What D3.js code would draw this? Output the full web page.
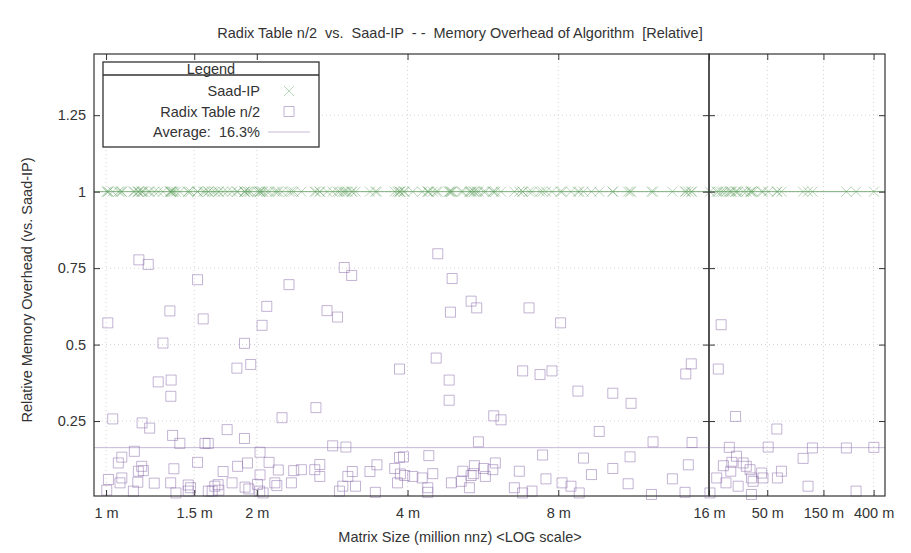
<!DOCTYPE html>
<html>
<head>
<meta charset="utf-8">
<script src="https://cdn.jsdelivr.net/npm/d3@7"></script>
<style>
    body { margin: 0; background: #fff; }
    text { font-family: "Liberation Sans", Arial, sans-serif; fill: #333; white-space: pre; }
</style>
</head>
<body>
<div id="chart"></div>
<script>
// Matrix size in million nnz (one entry per test matrix)
const matrixSizes = [
    1.008, 1.163, 1.214, 1.523, 1.341, 1.563, 2.319, 2.094, 2.049, 2.990,
    3.094, 2.762, 2.899, 1.299, 1.890, 1.825, 1.945, 3.855, 1.271, 1.349,
    1.347, 1.031, 1.180, 1.222, 2.246, 2.625, 1.358, 1.404, 1.745, 1.890,
    1.576, 1.600, 2.835, 3.013, 2.030, 1.139, 1.075, 1.058, 1.178, 1.187,
    1.366, 1.523, 1.713, 1.831, 1.916, 2.116, 2.208, 2.370, 2.455, 2.611,
    2.672, 2.672, 2.030, 3.103, 3.040, 3.365, 3.475, 3.771, 3.855, 3.871,
    1.011, 1.066, 1.075, 1.157, 1.248, 1.346, 1.459, 1.475, 1.649, 1.674,
    1.785, 1.895, 1.928, 2.006, 2.173, 2.193, 2.345, 1.003, 1.134, 1.379,
    1.459, 1.600, 1.629, 1.680, 2.027, 2.059, 2.925, 2.970, 3.149, 3.450,
    3.820, 1.160,
    4.597, 4.911, 4.873, 5.358, 5.498, 6.994, 8.085, 4.563, 4.844, 4.844,
    6.792, 7.356, 7.772, 8.757, 10.28, 11.18, 14.75, 14.38, 5.945, 6.148,
    9.658, 5.542, 12.37, 14.80, 3.927, 4.411, 7.444, 8.985, 11.13, 14.55,
    5.990, 5.441, 5.678, 5.157, 4.493, 3.947, 4.098, 4.279, 5.358, 5.722,
    5.920, 6.689, 7.560, 9.320, 10.28, 13.52, 4.894, 5.120, 5.317, 4.390,
    4.390, 6.538, 7.090, 8.140, 8.480, 8.810, 11.03, 12.28, 14.33, 6.790,
    5.420,
    20.3, 19.2, 26.9, 60.3, 23.8, 50.9, 121, 235, 402, 27.4,
    100.8, 21.2, 25.0, 31.2, 33.2, 35.7, 24.5, 44.8, 66.0, 18.6,
    22.3, 28.3, 36.7, 46.0, 61.0, 37.9, 111, 284, 16.3, 36.7
];

// Radix Table n/2 memory overhead, relative to Saad-IP
const radixOverhead = [
    0.571, 0.777, 0.762, 0.712, 0.610, 0.584, 0.696, 0.625, 0.563, 0.752,
    0.726, 0.611, 0.590, 0.505, 0.504, 0.423, 0.435, 0.420, 0.378, 0.384,
    0.331, 0.257, 0.244, 0.227, 0.261, 0.294, 0.203, 0.177, 0.222, 0.193,
    0.177, 0.177, 0.169, 0.165, 0.148, 0.151, 0.132, 0.113, 0.102, 0.088,
    0.094, 0.115, 0.085, 0.102, 0.113, 0.115, 0.090, 0.088, 0.091, 0.091,
    0.108, 0.069, 0.074, 0.085, 0.069, 0.085, 0.107, 0.095, 0.131, 0.077,
    0.059, 0.048, 0.064, 0.050, 0.047, 0.048, 0.041, 0.032, 0.037, 0.042,
    0.048, 0.034, 0.028, 0.043, 0.048, 0.039, 0.048, 0.024, 0.021, 0.015,
    0.021, 0.021, 0.021, 0.024, 0.021, 0.015, 0.021, 0.037, 0.037, 0.017,
    0.048, 0.086,
    0.797, 0.716, 0.606, 0.642, 0.620, 0.620, 0.571, 0.456, 0.384, 0.318,
    0.414, 0.402, 0.414, 0.348, 0.341, 0.308, 0.437, 0.404, 0.267, 0.254,
    0.216, 0.182, 0.182, 0.180, 0.133, 0.137, 0.139, 0.129, 0.133, 0.107,
    0.113, 0.104, 0.095, 0.086, 0.078, 0.072, 0.069, 0.064, 0.072, 0.069,
    0.091, 0.086, 0.061, 0.075, 0.095, 0.061, 0.048, 0.053, 0.032, 0.032,
    0.017, 0.032, 0.021, 0.048, 0.037, 0.015, 0.045, 0.010, 0.017, 0.015,
    0.078,
    0.565, 0.420, 0.265, 0.224, 0.164, 0.165, 0.162, 0.162, 0.164, 0.135,
    0.128, 0.104, 0.115, 0.113, 0.102, 0.091, 0.086, 0.080, 0.086, 0.064,
    0.048, 0.037, 0.064, 0.064, 0.064, 0.053, 0.037, 0.021, 0.015, 0.010
];

// Saad-IP is the baseline (relative overhead 1 for every matrix)
const saadOverhead = [
    1, 1, 1, 1, 1, 1, 1, 1, 1, 1, 1, 1, 1, 1, 1, 1, 1, 1, 1, 1,
    1, 1, 1, 1, 1, 1, 1, 1, 1, 1, 1, 1, 1, 1, 1, 1, 1, 1, 1, 1,
    1, 1, 1, 1, 1, 1, 1, 1, 1, 1, 1, 1, 1, 1, 1, 1, 1, 1, 1, 1,
    1, 1, 1, 1, 1, 1, 1, 1, 1, 1, 1, 1, 1, 1, 1, 1, 1, 1, 1, 1,
    1, 1, 1, 1, 1, 1, 1, 1, 1, 1, 1, 1, 1, 1, 1, 1, 1, 1, 1, 1,
    1, 1, 1, 1, 1, 1, 1, 1, 1, 1, 1, 1, 1, 1, 1, 1, 1, 1, 1, 1,
    1, 1, 1, 1, 1, 1, 1, 1, 1, 1, 1, 1, 1, 1, 1, 1, 1, 1, 1, 1,
    1, 1, 1, 1, 1, 1, 1, 1, 1, 1, 1, 1, 1, 1, 1, 1, 1, 1, 1, 1,
    1, 1, 1, 1, 1, 1, 1, 1, 1, 1, 1, 1, 1, 1, 1, 1, 1, 1, 1, 1,
    1, 1, 1
];

const averageOverhead = 0.163;
const averageLabel = 'Average:  16.3%';

const leftTicks = [1, 1.5, 2, 4, 8, 16];
const leftTickLabels = ['1 m', '1.5 m', '2 m', '4 m', '8 m', '16 m'];
const rightTicks = [50, 150, 400];
const rightTickLabels = ['50 m', '150 m', '400 m'];
const yTicks = [0.25, 0.5, 0.75, 1, 1.25];
const yTickLabels = ['0.25', '0.5', '0.75', '1', '1.25'];

const seriesNames = ['Saad-IP', 'Radix Table n/2'];

// ---- layout ----
const W = 911, H = 553;
const frame = { top: 54, bottom: 496, left: 94, split: 709, right: 885 };
const fontSize = '14.5px';
const saadColor = '#5f9f5f';
const radixColor = '#8a6aaa';
const avgColor = '#c4b8d6';
const gridColor = '#c8c8c8';

const svg = d3.select('#chart').append('svg')
    .attr('width', W)
    .attr('height', H);

const y = d3.scaleLinear().domain([0.005, 1.45]).range([frame.bottom, frame.top]);

// two panels: 1m..16m (log2) and 16m..500m (log10)
const panels = [
    {
        x: d3.scaleLog().base(2).domain([0.946, 16]).range([frame.left, frame.split]),
        ticks: leftTicks, labels: leftTickLabels,
        has: s => s < 16
    },
    {
        x: d3.scaleLog().domain([16, 500]).range([frame.split, frame.right]),
        ticks: rightTicks, labels: rightTickLabels,
        has: s => s >= 16
    }
];

const points = matrixSizes.map((s, i) => ({ size: s, radix: radixOverhead[i], saad: saadOverhead[i] }));

const squarePath = 'M-5,-5H5V5H-5Z';
const crossPath = 'M-5,-5L5,5M-5,5L5,-5';

panels.forEach((p, pi) => {
    const [x0, x1] = p.x.range();
    const g = svg.append('g');

    // dotted grid
    g.selectAll('.vgrid')
        .data(p.ticks.filter(t => p.x(t) > x0 + 1 && p.x(t) < x1 - 1))
        .enter().append('line')
        .attr('x1', d => p.x(d)).attr('x2', d => p.x(d))
        .attr('y1', frame.top).attr('y2', frame.bottom)
        .attr('stroke', gridColor).attr('stroke-width', 0.8)
        .attr('stroke-dasharray', '1,3');

    g.selectAll('.hgrid')
        .data(yTicks)
        .enter().append('line')
        .attr('x1', x0).attr('x2', x1)
        .attr('y1', d => y(d)).attr('y2', d => y(d))
        .attr('stroke', gridColor).attr('stroke-width', 0.8)
        .attr('stroke-dasharray', '1,3');

    // average line
    g.append('line')
        .attr('x1', x0).attr('x2', x1)
        .attr('y1', y(averageOverhead)).attr('y2', y(averageOverhead))
        .attr('stroke', avgColor).attr('stroke-width', 1);

    // baseline through the Saad-IP points
    g.append('line')
        .attr('x1', x0).attr('x2', x1)
        .attr('y1', y(1)).attr('y2', y(1))
        .attr('stroke', saadColor).attr('stroke-width', 1).attr('opacity', 0.8);

    const pts = points.filter(d => p.has(d.size));

    g.selectAll('.radix')
        .data(pts)
        .enter().append('path')
        .attr('d', squarePath)
        .attr('transform', d => `translate(${p.x(d.size)},${y(d.radix)})`)
        .attr('fill', 'none')
        .attr('stroke', radixColor)
        .attr('stroke-opacity', 0.5)
        .attr('stroke-width', 1);

    g.selectAll('.saad')
        .data(pts)
        .enter().append('path')
        .attr('d', crossPath)
        .attr('transform', d => `translate(${p.x(d.size)},${y(d.saad)})`)
        .attr('fill', 'none')
        .attr('stroke', saadColor)
        .attr('stroke-opacity', 0.45)
        .attr('stroke-width', 1);

    // axes with inward ticks
    const bottom = g.append('g')
        .attr('transform', `translate(0,${frame.bottom})`)
        .call(d3.axisBottom(p.x).tickValues(p.ticks)
            .tickFormat((d, i) => p.labels[i])
            .tickSizeInner(-6).tickSizeOuter(0).tickPadding(12));
    bottom.selectAll('text').style('font-size', fontSize).attr('fill', '#333');

    g.append('g')
        .attr('transform', `translate(0,${frame.top})`)
        .call(d3.axisTop(p.x).tickValues(p.ticks).tickFormat('')
            .tickSizeInner(-6).tickSizeOuter(0));

    const left = g.append('g')
        .attr('transform', `translate(${x0},0)`)
        .call(d3.axisLeft(y).tickValues(yTicks)
            .tickFormat((d, i) => pi === 0 ? yTickLabels[i] : '')
            .tickSizeInner(-6).tickSizeOuter(0).tickPadding(8));
    left.selectAll('text').style('font-size', fontSize).attr('fill', '#333');

    g.append('g')
        .attr('transform', `translate(${x1},0)`)
        .call(d3.axisRight(y).tickValues(yTicks).tickFormat('')
            .tickSizeInner(-6).tickSizeOuter(0));

    g.selectAll('.domain').remove();
    g.selectAll('.tick line').attr('stroke', '#333');

    g.append('rect')
        .attr('x', x0).attr('y', frame.top)
        .attr('width', x1 - x0).attr('height', frame.bottom - frame.top)
        .attr('fill', 'none').attr('stroke', '#333').attr('stroke-width', 1.2);
});

// titles
svg.append('text')
    .attr('x', 460).attr('y', 38)
    .attr('text-anchor', 'middle')
    .style('font-size', fontSize)
    .text('Radix Table n/2  vs.  Saad-IP  - -  Memory Overhead of Algorithm  [Relative]');

svg.append('text')
    .attr('x', 460).attr('y', 542)
    .attr('text-anchor', 'middle')
    .style('font-size', fontSize)
    .text('Matrix Size (million nnz) <LOG scale>');

svg.append('text')
    .attr('transform', 'translate(32,290) rotate(-90)')
    .attr('text-anchor', 'middle')
    .style('font-size', fontSize)
    .text('Relative Memory Overhead (vs. Saad-IP)');

// legend box
const legend = svg.append('g');
legend.append('rect')
    .attr('x', 103).attr('y', 62).attr('width', 216).attr('height', 85)
    .attr('fill', '#fff').attr('stroke', '#333').attr('stroke-width', 1.3);
legend.append('line')
    .attr('x1', 103).attr('x2', 319).attr('y1', 75).attr('y2', 75)
    .attr('stroke', '#333').attr('stroke-width', 1.3);
legend.append('text')
    .attr('x', 211).attr('y', 74)
    .attr('text-anchor', 'middle')
    .style('font-size', fontSize)
    .text('Legend');

const legendRows = [
    { label: seriesNames[0], kind: 'cross' },
    { label: seriesNames[1], kind: 'square' },
    { label: averageLabel, kind: 'line' }
];

legendRows.forEach((r, i) => {
    const cy = 91 + i * 20.5;
    legend.append('text')
        .attr('x', 260).attr('y', cy + 5)
        .attr('text-anchor', 'end')
        .style('font-size', fontSize)
        .text(r.label);
    if (r.kind === 'cross') {
        legend.append('path').attr('d', crossPath)
            .attr('transform', `translate(289,${cy})`)
            .attr('stroke', saadColor).attr('stroke-opacity', 0.45).attr('fill', 'none');
    } else if (r.kind === 'square') {
        legend.append('path').attr('d', squarePath)
            .attr('transform', `translate(289,${cy})`)
            .attr('stroke', radixColor).attr('stroke-opacity', 0.5).attr('fill', 'none');
    } else {
        legend.append('line')
            .attr('x1', 268).attr('x2', 310).attr('y1', cy).attr('y2', cy)
            .attr('stroke', avgColor).attr('stroke-width', 1);
    }
});
</script>
</body>
</html>
